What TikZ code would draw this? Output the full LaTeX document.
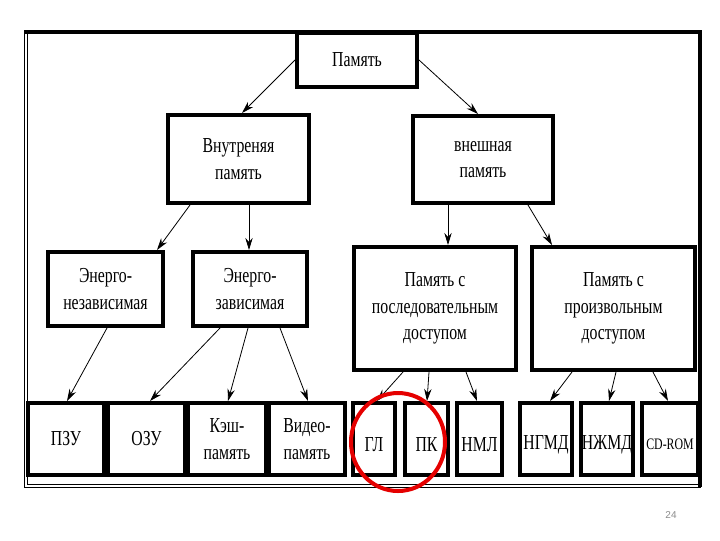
\documentclass[tikz,border=0pt]{standalone}
\usepackage{fontspec}
\setmainfont[FakeStretch=0.74]{Liberation Serif}
\newfontfamily\pagenumfont{Liberation Sans}
\usetikzlibrary{arrows.meta,calc}
\newcommand{\lowtext}[1]{\raisebox{-4pt}[\height][\depth]{#1}}
\begin{document}
\begin{tikzpicture}[x=0.75pt,y=-0.75pt,
  box/.style={draw=black, line width=3pt, fill=white, inner sep=0pt, align=center,
    font=\fontsize{16pt}{20pt}\selectfont},
  wd/.style={minimum width=#1*0.75pt},
  ht/.style={minimum height=#1*0.75pt},
  arr/.style={line width=0.6pt, -{Stealth[length=9pt,width=5.5pt]}},
  frameline/.style={line width=0.5pt}]
\useasboundingbox (0,0) rectangle (720,540);
\fill[white] (0,0) rectangle (720,540);
% frame
\draw[line width=3pt] (24,32) -- (700,32) -- (700,487);
\draw[frameline] (24,31) -- (24,487) -- (701,487);
\draw[frameline] (27,33) -- (27,484) -- (699,484);
% level 1
\node[box, wd=120, ht=54] (pam) at (357,60) {Память};
% level 2
\node[box, wd=141, ht=88] (vn) at (238.5,159) {Внутреняя\\память};
\node[box, wd=140, ht=87] (ve) at (483,159.5) {внешная\\память};
% level 3
\node[box, wd=115, ht=74] (en1) at (105.5,289) {Энерго-\\независимая};
\node[box, wd=114, ht=74] (en2) at (250,289) {Энерго-\\зависимая};
\node[box, wd=162, ht=123] (ps) at (435,308.5) {Память с\\последовательным\\доступом};
\node[box, wd=163, ht=123] (pr) at (613.5,308.5) {Память с\\произвольным\\доступом};
% level 4
\node[box, wd=76, ht=72] (pzu) at (66,439) {ПЗУ};
\node[box, wd=77, ht=72] (ozu) at (146.5,439) {ОЗУ};
\node[box, wd=78, ht=72] (kesh) at (227,439) {Кэш-\\память};
\node[box, wd=76, ht=72] (video) at (307,439) {Видео-\\память};
\node[box, wd=42, ht=72] (gl) at (374,439) {\lowtext{ГЛ}};
\node[box, wd=43, ht=72] (pk) at (426.5,439) {\lowtext{ПК}};
\node[box, wd=45, ht=72] (nml) at (479.5,439) {\lowtext{НМЛ}};
\node[box, wd=52, ht=72] (ngmd) at (546,439) {\lowtext{НГМД}};
\node[box, wd=52, ht=72] (nzhmd) at (607,439) {\lowtext{НЖМД}};
\node[box, wd=56, ht=72, font=\fontsize{12pt}{20pt}\selectfont] (cd) at (670,439) {\lowtext{CD-ROM}};
% arrows
\draw[arr] (pam.west) -- ($(vn.north)+(3.5,0)$);
\draw[arr] (pam.east) -- ($(ve.north)+(-5,0)$);
\draw[arr] ($(vn.south)+(-48.5,0)$) -- ($(en1.north)+(51.5,0)$);
\draw[arr] ($(vn.south)+(10.5,0)$) -- ($(en2.north)+(-1,0)$);
\draw[arr] ($(ve.south)+(-35,0)$) -- ($(ps.north)+(13,0)$);
\draw[arr] ($(ve.south)+(45,0)$) -- ($(pr.north)+(-61.5,0)$);
\draw[arr] ($(en1.south)+(1.5,0)$) -- ($(pzu.north)+(1,0)$);
\draw[arr] ($(en2.south)+(-30,0)$) -- ($(ozu.north)+(3.5,0)$);
\draw[arr] ($(en2.south)+(-2,0)$) -- ($(kesh.north)+(1,0)$);
\draw[arr] ($(en2.south)+(30,0)$) -- ($(video.north)+(1,0)$);
\draw[arr] ($(ps.south)+(-32,0)$) -- ($(gl.north)+(3,0)$);
\draw[arr] ($(ps.south)+(-6,0)$) -- ($(pk.north)+(0.5,0)$);
\draw[arr] ($(ps.south)+(31,0)$) -- ($(nml.north)+(-2.5,0)$);
\draw[arr] ($(pr.south)+(-41.5,0)$) -- ($(ngmd.north)+(4,0)$);
\draw[arr] ($(pr.south)+(2.5,0)$) -- ($(nzhmd.north)+(2,0)$);
\draw[arr] ($(pr.south)+(39.5,0)$) -- ($(cd.north)+(-2,0)$);
% red circle
\draw[red!90!black, line width=3pt] (398,442) ellipse [x radius=47, y radius=49];
% page number
\node[font=\pagenumfont\fontsize{7.5pt}{9pt}\selectfont, text=black!45] (pnum) at (671,515) {24};
\end{tikzpicture}
\end{document}
